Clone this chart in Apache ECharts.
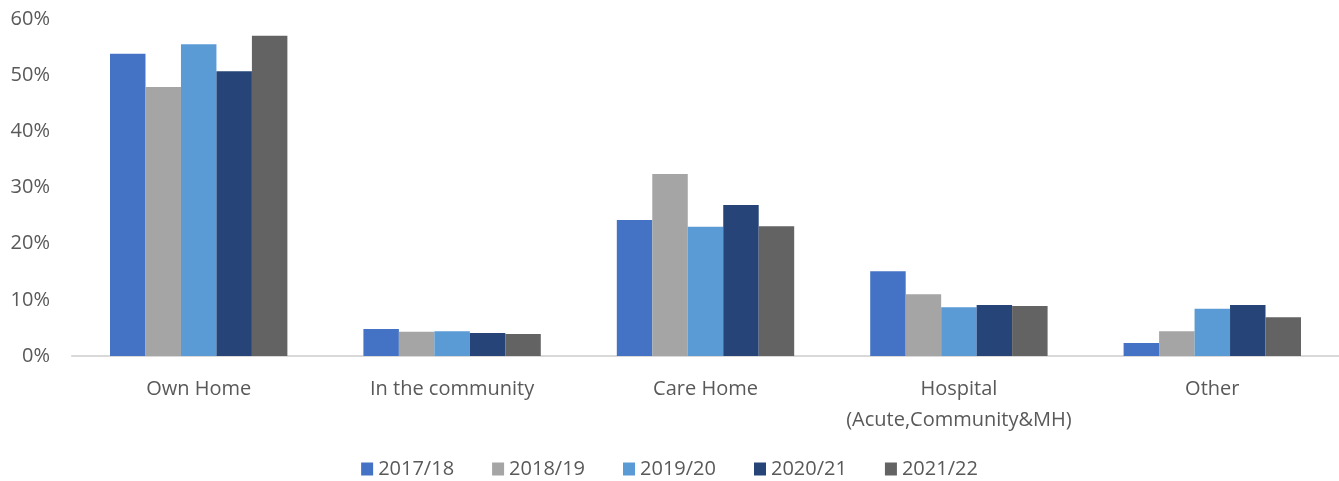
<!DOCTYPE html>
<html>
<head>
<meta charset="utf-8">
<script src="https://cdn.jsdelivr.net/npm/echarts@6/dist/echarts.min.js"></script>
<style>
  html, body { margin: 0; padding: 0; background: #fff; }
  #chart { width: 1339px; height: 481px; }
</style>
</head>
<body>
<div id="chart"></div>
<script>
var categories = ['Own Home', 'In the community', 'Care Home', 'Hospital\n(Acute,Community&MH)', 'Other'];
var years = ['2017/18', '2018/19', '2019/20', '2020/21', '2021/22'];
var v2017 = [53.8, 4.8, 24.2, 15.1, 2.3];
var v2018 = [47.9, 4.3, 32.4, 11.0, 4.4];
var v2019 = [55.5, 4.4, 23.0, 8.7, 8.4];
var v2020 = [50.7, 4.1, 26.9, 9.1, 9.1];
var v2021 = [57.0, 3.9, 23.1, 8.9, 6.9];
var yTicks = [0, 10, 20, 30, 40, 50, 60];

var colors = ['#4472C4', '#A5A5A5', '#5B9BD5', '#264478', '#636363'];
var values = [v2017, v2018, v2019, v2020, v2021];
var font = 'Open Sans';

var chart = echarts.init(document.getElementById('chart'));

var series = [];
for (var i = 0; i < years.length; i++) {
    series.push({
        name: years[i],
        type: 'bar',
        data: values[i],
        barGap: '0%',
        barCategoryGap: '30%',
        itemStyle: { color: colors[i] },
        animation: false
    });
}

chart.setOption({
    color: colors,
    animation: false,
    grid: {
        left: 72,
        right: 0,
        top: 19,
        bottom: 125
    },
    legend: {
        data: years,
        left: 'center',
        top: 454,
        itemWidth: 12,
        itemHeight: 13,
        itemGap: 38,
        icon: 'rect',
        textStyle: { fontFamily: font, fontSize: 20, color: '#595959' }
    },
    xAxis: {
        type: 'category',
        data: categories,
        axisLine: { lineStyle: { color: '#D9D9D9', width: 2 } },
        axisTick: { show: false },
        axisLabel: {
            interval: 0,
            margin: 18,
            fontFamily: font,
            fontSize: 20,
            lineHeight: 31,
            color: '#595959'
        }
    },
    yAxis: {
        type: 'value',
        min: yTicks[0],
        max: yTicks[yTicks.length - 1],
        interval: 10,
        splitLine: { show: false },
        axisLine: { show: false },
        axisTick: { show: false },
        axisLabel: {
            margin: 22,
            fontFamily: font,
            fontSize: 20,
            color: '#595959',
            formatter: '{value}%'
        }
    },
    series: series
});
</script>
</body>
</html>
